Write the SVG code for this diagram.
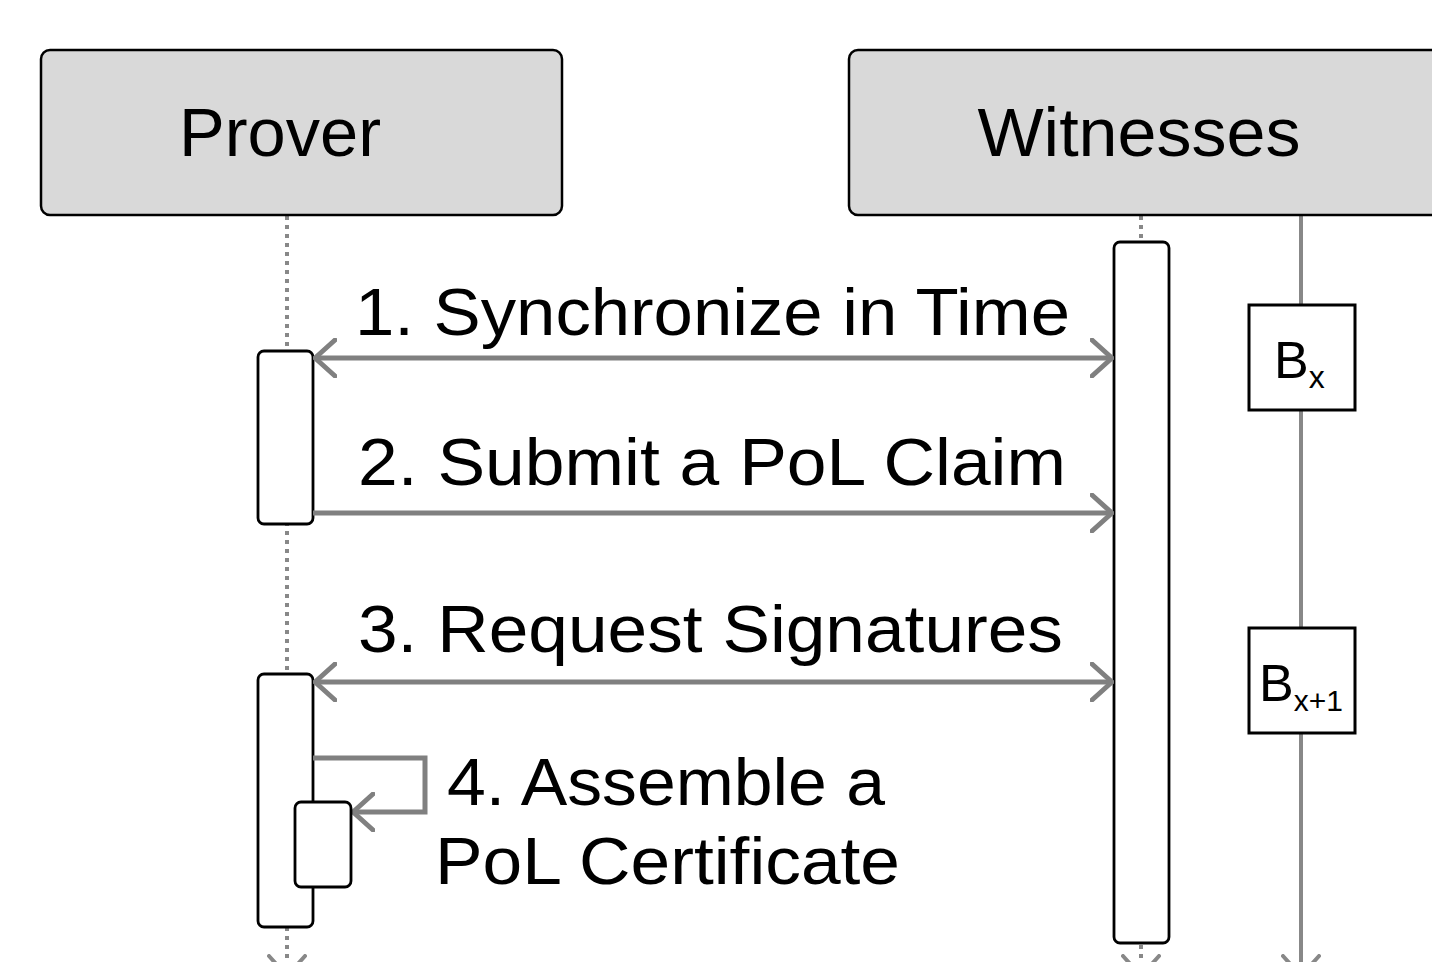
<svg xmlns="http://www.w3.org/2000/svg" width="1432" height="962" viewBox="0 0 1432 962">
  <style>
    .head { fill: #d9d9d9; stroke: #000; stroke-width: 2.5; }
    .act { fill: #fff; stroke: #000; stroke-width: 2.8; }
    .blk { fill: #fff; stroke: #000; stroke-width: 3; }
    .life { stroke: #888; stroke-width: 4; fill: none; }
    .dot { stroke-dasharray: 4 5; }
    .msg { stroke: #808080; stroke-width: 5; fill: none; }
    .lbl { font-family: "Liberation Sans", Arial, sans-serif; font-size: 66px; fill: #000; }
    .ttl { font-family: "Liberation Sans", Arial, sans-serif; font-size: 68px; fill: #000; text-anchor: middle; }
    .bl { font-family: "Liberation Sans", Arial, sans-serif; fill: #000; }
  </style>
  <defs>
    <marker id="chev" viewBox="0 0 24 40" refX="22" refY="20" markerWidth="24" markerHeight="40" markerUnits="userSpaceOnUse" orient="auto-start-reverse">
      <path d="M2 2 L22 20 L2 38" fill="none" stroke="#808080" stroke-width="5" stroke-linecap="round" stroke-linejoin="round"/>
    </marker>
    <marker id="chevl" viewBox="0 0 24 40" refX="22" refY="20" markerWidth="24" markerHeight="40" markerUnits="userSpaceOnUse" orient="auto">
      <path d="M2 2 L22 20 L2 38" fill="none" stroke="#888" stroke-width="4" stroke-linecap="round" stroke-linejoin="round"/>
    </marker>
  </defs>
  <rect width="1432" height="962" fill="#fff"/>

  <!-- lifelines -->
  <g id="lifelines">
    <line class="life dot" x1="287" y1="216" x2="287" y2="976" marker-end="url(#chevl)"/>
    <line class="life dot" x1="1141" y1="216" x2="1141" y2="976" marker-end="url(#chevl)"/>
    <line class="life" x1="1301" y1="216" x2="1301" y2="976" marker-end="url(#chevl)"/>
  </g>

  <g id="prover">
    <rect class="head" x="41" y="50" width="521" height="165" rx="9"/>
    <text class="ttl" x="280" y="156" textLength="202" lengthAdjust="spacingAndGlyphs">Prover</text>
  </g>
  <g id="witnesses">
    <rect class="head" x="849" y="50" width="600" height="165" rx="9"/>
    <text class="ttl" x="1139" y="156" textLength="323" lengthAdjust="spacingAndGlyphs">Witnesses</text>
  </g>

  <g id="witness-activation">
    <rect class="act" x="1114" y="242" width="55" height="701" rx="6"/>
  </g>
  <g id="prover-activation-1">
    <rect class="act" x="258" y="351" width="55" height="173" rx="6"/>
  </g>
  <g id="prover-activation-2">
    <rect class="act" x="258" y="674" width="55" height="253" rx="6"/>
  </g>

  <g id="block-x">
    <rect class="blk" x="1249" y="305" width="106" height="105"/>
    <text class="bl" x="1274" y="378" font-size="52">B<tspan font-size="32" dy="10">x</tspan></text>
  </g>
  <g id="block-x1">
    <rect class="blk" x="1249" y="628" width="106" height="105"/>
    <text class="bl" x="1259" y="701" font-size="52">B<tspan font-size="30" dy="10">x+1</tspan></text>
  </g>

  <!-- messages -->
  <g id="connectors">
    <line class="msg" x1="315" y1="358" x2="1112" y2="358" marker-start="url(#chev)" marker-end="url(#chev)"/>
    <line class="msg" x1="313" y1="513" x2="1112" y2="513" marker-end="url(#chev)"/>
    <line class="msg" x1="315" y1="682" x2="1112" y2="682" marker-start="url(#chev)" marker-end="url(#chev)"/>
    <polyline class="msg" points="313,758 425,758 425,812 353,812" marker-end="url(#chev)"/>
  </g>

  <g id="nested-activation">
    <rect class="act" x="295" y="802" width="56" height="85" rx="6"/>
  </g>

  <g id="labels">
    <text class="lbl" x="355" y="335" textLength="715" lengthAdjust="spacingAndGlyphs">1. Synchronize in Time</text>
    <text class="lbl" x="358" y="485" textLength="708" lengthAdjust="spacingAndGlyphs">2. Submit a PoL Claim</text>
    <text class="lbl" x="358" y="652" textLength="705" lengthAdjust="spacingAndGlyphs">3. Request Signatures</text>
    <text class="lbl" x="447" y="805" textLength="438" lengthAdjust="spacingAndGlyphs">4. Assemble a</text>
    <text class="lbl" x="435" y="884" textLength="465" lengthAdjust="spacingAndGlyphs">PoL Certificate</text>
  </g>
</svg>
